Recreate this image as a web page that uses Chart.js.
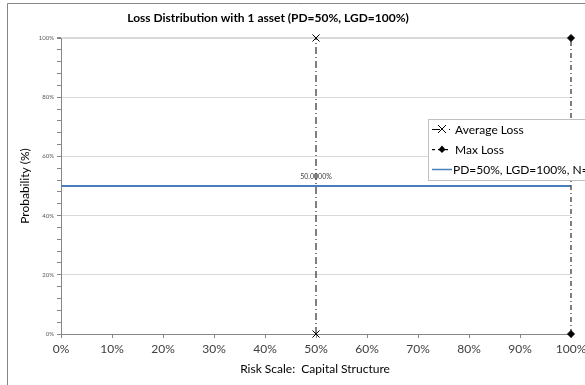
<!DOCTYPE html>
<html>
<head>
<meta charset="UTF-8">
<script src="https://cdn.jsdelivr.net/npm/chart.js"></script>
<style>
  body { margin: 0; background: #fff; }
</style>
</head>
<body>
<canvas id="myChart" width="585" height="385"></canvas>
<script>
// chart values
var avgLossX = [50, 50];
var avgLossY = [0, 100];
var maxLossX = [100, 100];
var maxLossY = [0, 100];
var pdLineX = [0, 100];
var pdLineY = [50, 50];
var pdLabel = '50.0000%';
var seriesNames = ['Average Loss', 'Max Loss', 'PD=50%, LGD=100%, N=1'];
var chartTitle = 'Loss Distribution with 1 asset (PD=50%, LGD=100%)';
var xTitle = 'Risk Scale:  Capital Structure';
var yTitle = 'Probability (%)';

function pts(xs, ys) {
    return xs.map(function (x, i) { return { x: x, y: ys[i] }; });
}

var FONT = 'Lato, "Open Sans", sans-serif';

// frame, titles, point label and legend box
var extras = {
    id: 'extras',
    afterDraw: function (chart) {
        var ctx = chart.ctx;
        ctx.save();
        // outer frame
        ctx.strokeStyle = '#868686';
        ctx.lineWidth = 1;
        ctx.beginPath();
        ctx.moveTo(7.5, 385);
        ctx.lineTo(7.5, 3.5);
        ctx.lineTo(585, 3.5);
        ctx.stroke();

        // title
        ctx.fillStyle = '#000';
        ctx.textAlign = 'center';
        ctx.textBaseline = 'middle';
        ctx.font = 'bold 12px ' + FONT;
        ctx.fillText(chartTitle, 268, 18);

        // axis titles
        ctx.font = '12px ' + FONT;
        ctx.fillText(xTitle, 315, 369);
        ctx.save();
        ctx.translate(25, 186);
        ctx.rotate(-Math.PI / 2);
        ctx.fillText(yTitle, 0, 0);
        ctx.restore();

        // data label for PD line
        var xs = chart.scales.x, ys = chart.scales.y;
        ctx.font = '7px ' + FONT;
        ctx.fillStyle = '#404040';
        ctx.fillText(pdLabel, xs.getPixelForValue(avgLossX[0]), ys.getPixelForValue(pdLineY[0]) - 9);

        // legend
        var lx = 428, ly = 119;
        ctx.fillStyle = '#fff';
        ctx.fillRect(lx, ly, 200, 61);
        ctx.setLineDash([1, 1]);
        ctx.strokeStyle = '#808080';
        ctx.strokeRect(lx + 0.5, ly + 0.5, 200, 61);
        ctx.setLineDash([]);

        // row 1
        var r1 = ly + 10;
        ctx.strokeStyle = '#000';
        ctx.beginPath();
        ctx.moveTo(432, r1 + 0.5); ctx.lineTo(440, r1 + 0.5);
        ctx.stroke();
        ctx.beginPath();
        ctx.moveTo(438, r1 - 4); ctx.lineTo(446, r1 + 4);
        ctx.moveTo(446, r1 - 4); ctx.lineTo(438, r1 + 4);
        ctx.stroke();
        ctx.fillStyle = '#000';
        ctx.fillRect(449, r1, 1, 1);

        // row 2
        var r2 = ly + 30;
        ctx.fillRect(432, r2, 3, 1.2);
        ctx.beginPath();
        ctx.moveTo(442, r2 - 3.5); ctx.lineTo(445.5, r2 + 0.5);
        ctx.lineTo(442, r2 + 4); ctx.lineTo(438.5, r2 + 0.5);
        ctx.closePath();
        ctx.fill();
        ctx.fillRect(438, r2, 10, 1.2);

        // row 3
        var r3 = ly + 50;
        ctx.strokeStyle = '#4a7ebb';
        ctx.lineWidth = 1.5;
        ctx.beginPath();
        ctx.moveTo(432, r3 + 0.5); ctx.lineTo(452, r3 + 0.5);
        ctx.stroke();

        ctx.fillStyle = '#000';
        ctx.textAlign = 'left';
        ctx.font = '12px ' + FONT;
        ctx.fillText(seriesNames[0], 455, r1 + 1);
        ctx.fillText(seriesNames[1], 455, r2 + 1);
        ctx.fillText(seriesNames[2], 453, r3 + 1);
        ctx.restore();
    }
};

var ctx = document.getElementById('myChart').getContext('2d');
var myChart = new Chart(ctx, {
    type: 'scatter',
    data: {
        datasets: [
            {
                label: seriesNames[0],
                data: pts(avgLossX, avgLossY),
                showLine: true,
                borderColor: '#000',
                borderWidth: 1,
                borderDash: [7, 3, 1, 3],
                pointStyle: 'crossRot',
                pointRadius: 5,
                pointBorderColor: '#000',
                pointBorderWidth: 1,
                clip: false
            },
            {
                label: seriesNames[1],
                data: pts(maxLossX, maxLossY),
                showLine: true,
                borderColor: '#555',
                borderWidth: 1.5,
                borderDash: [5, 3, 1, 3],
                pointStyle: 'rectRot',
                pointRadius: 3.5,
                pointBackgroundColor: '#000',
                pointBorderColor: '#000',
                pointBorderWidth: 1,
                clip: false
            },
            {
                label: seriesNames[2],
                data: pts(pdLineX, pdLineY),
                showLine: true,
                borderColor: '#4a7ebb',
                borderWidth: 2,
                pointRadius: 0,
                clip: false
            }
        ]
    },
    options: {
        responsive: false,
        animation: false,
        devicePixelRatio: 1,
        layout: { padding: { top: 38, right: 14, left: 0, bottom: 0 } },
        plugins: {
            legend: { display: false },
            tooltip: { enabled: false }
        },
        scales: {
            x: {
                type: 'linear',
                min: 0, max: 100,
                afterFit: function (s) {
                    s.height = 51;
                    s.paddingLeft = 0;
                    s.paddingRight = 0;
                },
                ticks: {
                    stepSize: 10,
                    padding: 4,
                    color: '#404040',
                    font: { family: FONT, size: 12 },
                    callback: function (v) { return v + '%'; }
                },
                grid: {
                    drawOnChartArea: false,
                    drawTicks: true,
                    tickLength: 4,
                    tickColor: '#868686'
                },
                border: { color: '#868686' }
            },
            y: {
                min: 0, max: 100,
                afterFit: function (s) {
                    s.width = 61;
                    s.paddingTop = 0;
                    s.paddingBottom = 0;
                },
                ticks: {
                    stepSize: 4,
                    autoSkip: false,
                    padding: 3,
                    color: '#595959',
                    font: { family: FONT, size: 6 },
                    callback: function (v) { return v % 20 === 0 ? v + '%' : ''; }
                },
                grid: {
                    color: function (c) {
                        return c.tick && c.tick.value % 20 === 0 ? '#d9d9d9' : 'rgba(0,0,0,0)';
                    },
                    lineWidth: function (c) {
                        return c.tick && c.tick.value === 100 ? 2 : 1;
                    },
                    drawTicks: true,
                    tickLength: 4,
                    tickColor: '#868686'
                },
                border: { color: '#868686' }
            }
        }
    },
    plugins: [extras]
});
</script>
</body>
</html>
